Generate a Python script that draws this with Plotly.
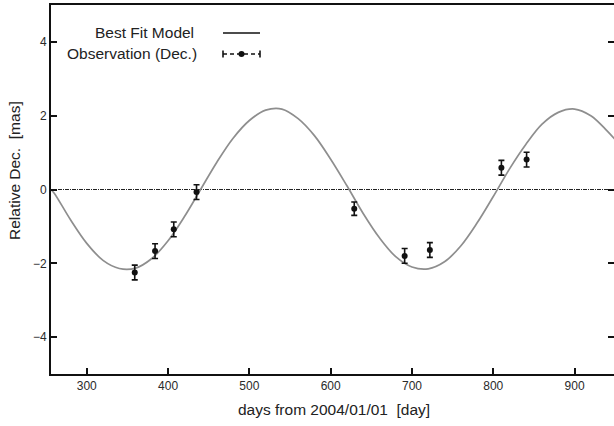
import plotly.graph_objects as go

# Best-fit model curve
model_days = [256, 260, 280, 300, 320, 340, 360, 380, 400, 420, 440, 460, 480, 500, 520, 540,
              560, 580, 600, 620, 640, 660, 680, 700, 720, 740, 760, 780, 800, 820, 840,
              860, 880, 900, 920, 940, 950]
model_dec = [0.0, -0.10, -0.82, -1.46, -1.92, -2.14, -2.13, -1.87, -1.39, -0.74, 0.0, 0.74,
             1.39, 1.87, 2.15, 2.18, 1.92, 1.46, 0.82, 0.10, -0.65, -1.31, -1.82, -2.10,
             -2.15, -1.96, -1.53, -0.91, -0.19, 0.56, 1.22, 1.77, 2.09, 2.18, 2.00, 1.59, 1.35]

# Observations
obs_days = [359, 384, 407, 435, 629, 691, 722, 810, 841]
obs_dec = [-2.25, -1.67, -1.08, -0.07, -0.52, -1.80, -1.64, 0.59, 0.81]
obs_err = [0.2, 0.2, 0.2, 0.2, 0.18, 0.2, 0.2, 0.2, 0.2]

x_range = [256, 948.5]
y_range = [-5, 5]
x_ticks = [300, 400, 500, 600, 700, 800, 900]
y_ticks = [-4, -2, 0, 2, 4]

W, H = 614, 426
ML, MR, MT, MB = 51, 0, 5, 52
PW, PH = W - ML - MR, H - MT - MB

def px(x):
    return (x - ML) / PW

def py(y):
    return (H - MB - y) / PH

FONT = "Liberation Sans, Arial, sans-serif"
TXT = 15.5

fig = go.Figure()

# zero reference line
fig.add_trace(go.Scatter(x=x_range, y=[0, 0], mode="lines",
                         line=dict(color="#222", width=1.2, dash="4px,1px,1px,1px"),
                         hoverinfo="skip", showlegend=False))

fig.add_trace(go.Scatter(x=model_days, y=model_dec, mode="lines",
                         line=dict(color="#8e8e8e", width=1.7, shape="spline"),
                         name="Best Fit Model", showlegend=False))

fig.add_trace(go.Scatter(x=obs_days, y=obs_dec, mode="markers",
                         marker=dict(color="#111", size=6),
                         error_y=dict(type="data", array=obs_err, color="#111",
                                      thickness=1.6, width=3),
                         name="Observation (Dec.)", showlegend=False))

# invisible trace to carry the right-hand tick axis
fig.add_trace(go.Scatter(x=x_range, y=y_range, yaxis="y2", mode="markers",
                         marker=dict(opacity=0), hoverinfo="skip", showlegend=False))

tick_common = dict(ticks="inside", ticklen=6, tickwidth=1.6, tickcolor="#111",
                   showgrid=False, zeroline=False,
                   tickfont=dict(family=FONT, size=12, color="#2a2a2a"))

fig.update_layout(
    xaxis=dict(range=x_range, tickvals=x_ticks, showline=True, mirror=True,
               linecolor="#111", linewidth=2, **tick_common),
    yaxis=dict(range=y_range, tickvals=y_ticks, showline=True, mirror=False,
               linecolor="#111", linewidth=2, **tick_common),
    yaxis2=dict(range=y_range, tickvals=y_ticks, overlaying="y", side="right",
                showline=False, showticklabels=False, **tick_common),
)

annotations = [
    dict(text="days from 2004/01/01  [day]", x=px(334), y=py(409), xref="paper", yref="paper",
         showarrow=False, font=dict(family=FONT, size=TXT, color="#222"),
         xanchor="center", yanchor="middle"),
    dict(text="Relative Dec.  [mas]", x=px(14), y=py(171), xref="paper", yref="paper",
         showarrow=False, textangle=-90, font=dict(family=FONT, size=TXT, color="#222"),
         xanchor="center", yanchor="middle"),
    dict(text="Best Fit Model", x=px(196), y=py(33), xref="paper", yref="paper",
         showarrow=False, font=dict(family=FONT, size=TXT, color="#222"),
         xanchor="right", yanchor="middle"),
    dict(text="Observation (Dec.)", x=px(199), y=py(54), xref="paper", yref="paper",
         showarrow=False, font=dict(family=FONT, size=TXT, color="#222"),
         xanchor="right", yanchor="middle"),
]

shapes = [
    dict(type="line", xref="paper", yref="paper", x0=px(223), x1=px(260), y0=py(33), y1=py(33),
         line=dict(color="#111", width=1.6)),
    dict(type="line", xref="paper", yref="paper", x0=px(223), x1=px(260), y0=py(54), y1=py(54),
         line=dict(color="#111", width=1.4, dash="4px,3px")),
    dict(type="line", xref="paper", yref="paper", x0=px(223), x1=px(223), y0=py(50.5), y1=py(57.5),
         line=dict(color="#111", width=1.6)),
    dict(type="line", xref="paper", yref="paper", x0=px(260), x1=px(260), y0=py(50.5), y1=py(57.5),
         line=dict(color="#111", width=1.6)),
    dict(type="circle", xref="paper", yref="paper", x0=px(238.5), x1=px(244.5), y0=py(51), y1=py(57),
         fillcolor="#111", line=dict(color="#111", width=0)),
]

fig.update_layout(width=W, height=H, margin=dict(l=ML, r=MR, t=MT, b=MB),
                  paper_bgcolor="white", plot_bgcolor="white",
                  annotations=annotations, shapes=shapes, showlegend=False)

fig.write_html("out.html")
